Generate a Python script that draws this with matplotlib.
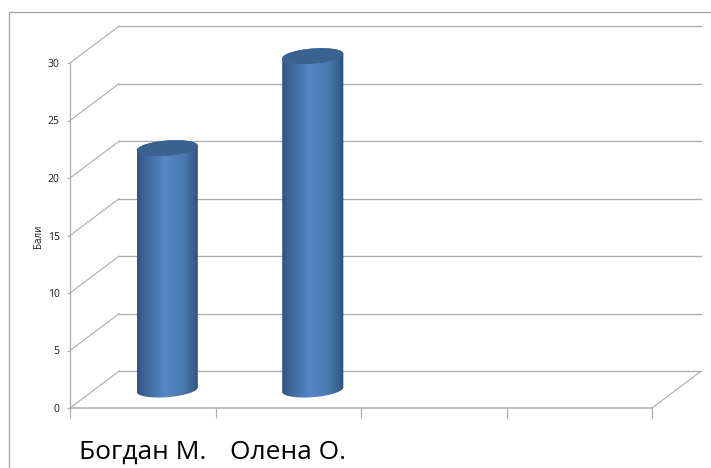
import numpy as np
import matplotlib
matplotlib.use('Agg')
import matplotlib.pyplot as plt
from matplotlib.colors import LinearSegmentedColormap
from matplotlib.lines import Line2D
from matplotlib.patches import PathPatch, Polygon
from matplotlib.path import Path

# Data
names = ['Богдан М.', 'Олена О.']
scores = [21, 29]
y_ticks = [0, 5, 10, 15, 20, 25, 30]
slots = 4

GREY = '#adadad'
# 3D look: how far the back wall sits from the front plane (data units)
DEPTH_X = 0.337
DEPTH_Y = 3.2
BAR_HALF = 0.21

cyl_cmap = LinearSegmentedColormap.from_list('cyl', [
    (0.0, '#2f5583'), (0.12, '#3c6597'), (0.45, '#5587c8'),
    (0.75, '#4a78b0'), (0.92, '#37608f'), (1.0, '#2c4d78')])


def ellipse_points(cx, cy, start=0.0, stop=2 * np.pi):
    # slightly tilted ellipse for the cylinder ends
    t = np.linspace(start, stop, 60)
    x = cx + BAR_HALF * np.cos(t)
    y = cy + 0.66 * np.sin(t) + 0.2 * np.cos(t)
    return np.column_stack([x, y])


def draw_cylinder(ax, pos, value):
    cx = pos + DEPTH_X / 2
    base = DEPTH_Y / 2
    top = base + value
    # outline: lower half of bottom ellipse, then upper half of top ellipse
    low = ellipse_points(cx, base, np.pi, 2 * np.pi)
    up = ellipse_points(cx, top, 0, np.pi)
    pts = np.vstack([low, up, low[:1]])
    clip = PathPatch(Path(pts, closed=True), transform=ax.transData, fc='none', ec='none')
    ax.add_patch(clip)
    grad = np.linspace(0, 1, 256).reshape(1, -1)
    im = ax.imshow(grad, cmap=cyl_cmap, aspect='auto', interpolation='bilinear',
                   extent=(cx - BAR_HALF, cx + BAR_HALF, base - 1, top + 1), zorder=3)
    # the top of a tall bar runs past the axes box
    im.set_clip_box(fig.bbox)
    im.set_clip_path(clip)
    ax.add_patch(Polygon(ellipse_points(cx, top), closed=True, fc='#3a6290',
                         ec='none', zorder=4, clip_on=False))


fig = plt.figure(figsize=(7.11, 4.68), dpi=100)
plt.rcParams['font.family'] = ['Open Sans', 'DejaVu Sans']
ax = fig.add_axes([70 / 711, 60 / 468, 582 / 711, 345 / 468])
ax.patch.set_alpha(0)

# Chart frame, open on the right and the bottom
fig.add_artist(Line2D([8.5 / 711, 8.5 / 711, 1], [0, 1 - 11.5 / 468, 1 - 11.5 / 468],
                      color='#a0a0a0', lw=0.9))

# Back wall gridlines and their slanted runs along the side wall
for v in y_ticks:
    ax.plot([DEPTH_X, slots + DEPTH_X], [v + DEPTH_Y, v + DEPTH_Y],
            color=GREY, lw=0.95, clip_on=False, zorder=1)
    ax.plot([0, DEPTH_X], [v, v + DEPTH_Y], color=GREY, lw=0.8, clip_on=False, zorder=1)
ax.plot([slots, slots + DEPTH_X], [0, DEPTH_Y], color=GREY, lw=0.8, clip_on=False, zorder=1)

for i, value in enumerate(scores):
    draw_cylinder(ax, i + 0.5, value)

ax.set_xlim(0, slots)
ax.set_ylim(0, 30)

for side in ['top', 'right']:
    ax.spines[side].set_visible(False)
for side in ['left', 'bottom']:
    ax.spines[side].set_color(GREY)
ax.spines['left'].set_linewidth(0.9)
ax.spines['bottom'].set_linewidth(1.1)

ax.set_yticks(y_ticks)
ax.tick_params(axis='y', length=2, width=0.8, color=GREY, labelsize=7.5, pad=5.5, labelcolor='#1a1a1a')
ax.set_xticks(range(slots + 1))
ax.set_xticklabels([])
ax.tick_params(axis='x', which='major', length=7, width=0.9, color=GREY)
ax.set_xticks([i + 0.5 for i in range(len(names))], minor=True)
# baseline alignment keeps both names on one line
ax.set_xticklabels(names, minor=True, fontsize=19, color='black', va='baseline')
ax.tick_params(axis='x', which='minor', length=0, pad=36.5)

ax.set_ylabel('Бали', fontsize=7, color='#1a1a1a', y=0.497, labelpad=2.4)

fig.savefig('out.png', dpi=100)
